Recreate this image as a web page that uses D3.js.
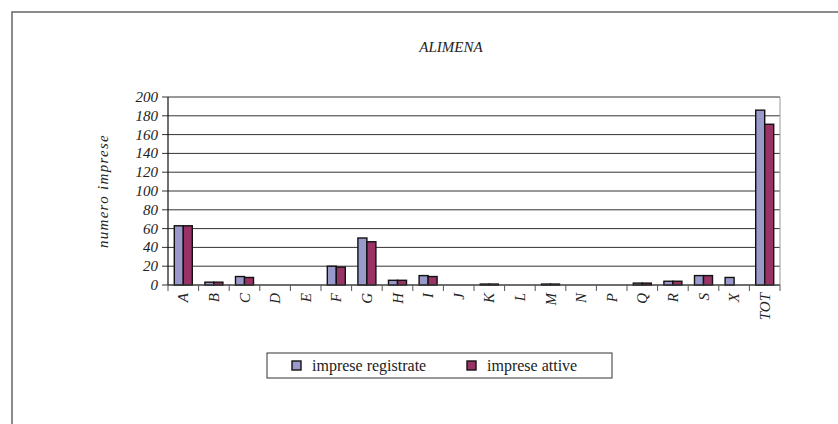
<!DOCTYPE html>
<html><head><meta charset="utf-8">
<script src="https://cdn.jsdelivr.net/npm/d3@7"></script>
<style>body{margin:0;background:#fff}svg{display:block}</style>
</head><body>
<svg id="c" width="838" height="424"></svg>
<script>
const categories = ["A","B","C","D","E","F","G","H","I","J","K","L","M","N","P","Q","R","S","X","TOT"];
const registrate = [63,3,9,0,0,20,50,5,10,0,1,0,1,0,0,2,4,10,8,186];
const attive     = [63,3,8,0,0,19,46,5,9,0,1,0,1,0,0,2,4,10,0,171];
const yTicks = [0,20,40,60,80,100,120,140,160,180,200];
const seriesNames = ["imprese registrate","imprese attive"];
const colors = ["#9999CC","#993366"];

const svg = d3.select("#c");
const font = "'Liberation Serif',serif";
svg.append("path").attr("d","M12,430 V12 H840").attr("fill","none").attr("stroke","#666").attr("stroke-width",1.5);

const m = {l:168, r:780, t:97, b:285};
const x = d3.scaleBand().domain(categories).range([m.l,m.r]);
const y = d3.scaleLinear().domain([0,200]).range([m.b,m.t]);

svg.append("text").attr("x",451).attr("y",52).attr("text-anchor","middle")
  .attr("font-family",font).attr("font-style","italic").attr("font-size",15).attr("fill","#222").text("ALIMENA");

svg.append("g").selectAll("line").data(yTicks).join("line")
  .attr("x1",m.l-6).attr("x2",m.r).attr("y1",d=>y(d)).attr("y2",d=>y(d))
  .attr("stroke","#333").attr("stroke-width",1);
svg.append("line").attr("x1",m.r).attr("x2",m.r).attr("y1",m.t).attr("y2",m.b).attr("stroke","#999");

svg.append("g").selectAll("text").data(yTicks).join("text")
  .attr("x",m.l-10).attr("y",d=>y(d)+5).attr("text-anchor","end")
  .attr("font-family",font).attr("font-style","italic").attr("font-size",15).attr("fill","#222").text(d=>d);

svg.append("text").attr("transform",`translate(108,${(m.t+m.b)/2}) rotate(-90)`).attr("text-anchor","middle")
  .attr("font-family",font).attr("font-style","italic").attr("font-size",15).attr("letter-spacing",1.3).attr("fill","#222").text("numero imprese");

const inner = d3.scaleBand().domain([0,1]).range([0,18]);
const data = categories.map((c,i)=>({c,v:[registrate[i],attive[i]]}));
const g = svg.append("g");
data.forEach(d=>{
  d.v.forEach((v,j)=>{
    if(v<=0) return;
    g.append("rect").attr("x",x(d.c)+(x.bandwidth()-18)/2+inner(j)).attr("y",y(v))
      .attr("width",inner.bandwidth()).attr("height",y(0)-y(v))
      .attr("fill",colors[j]).attr("stroke","#111").attr("stroke-width",1.4);
  });
});

svg.append("line").attr("x1",m.l).attr("x2",m.l).attr("y1",m.t).attr("y2",m.b).attr("stroke","#111").attr("stroke-width",1.2);
svg.append("line").attr("x1",m.l).attr("x2",m.r).attr("y1",m.b).attr("y2",m.b).attr("stroke","#444").attr("stroke-width",1.2);
svg.append("g").selectAll("line").data(categories.concat(["__end"])).join("line")
  .attr("x1",(d,i)=>m.l+i*x.step()).attr("x2",(d,i)=>m.l+i*x.step())
  .attr("y1",m.b).attr("y2",m.b+6).attr("stroke","#555");

svg.append("g").selectAll("text").data(categories).join("text")
  .attr("transform",d=>`translate(${x(d)+x.bandwidth()/2+5},${m.b+8}) rotate(-90)`)
  .attr("text-anchor","end").attr("font-family",font).attr("font-style","italic").attr("font-size",15).attr("fill","#222").text(d=>d);

const lg = svg.append("g");
lg.append("rect").attr("x",267).attr("y",353).attr("width",345).attr("height",25).attr("fill","#fff").attr("stroke","#333");
const lx = [292,467];
seriesNames.forEach((n,i)=>{
  lg.append("rect").attr("x",lx[i]).attr("y",361).attr("width",9).attr("height",9).attr("fill",colors[i]).attr("stroke","#111").attr("stroke-width",1.4);
  lg.append("text").attr("x",lx[i]+20).attr("y",371).attr("font-family",font).attr("font-size",16).attr("fill","#222").text(n);
});
</script>
</body></html>
